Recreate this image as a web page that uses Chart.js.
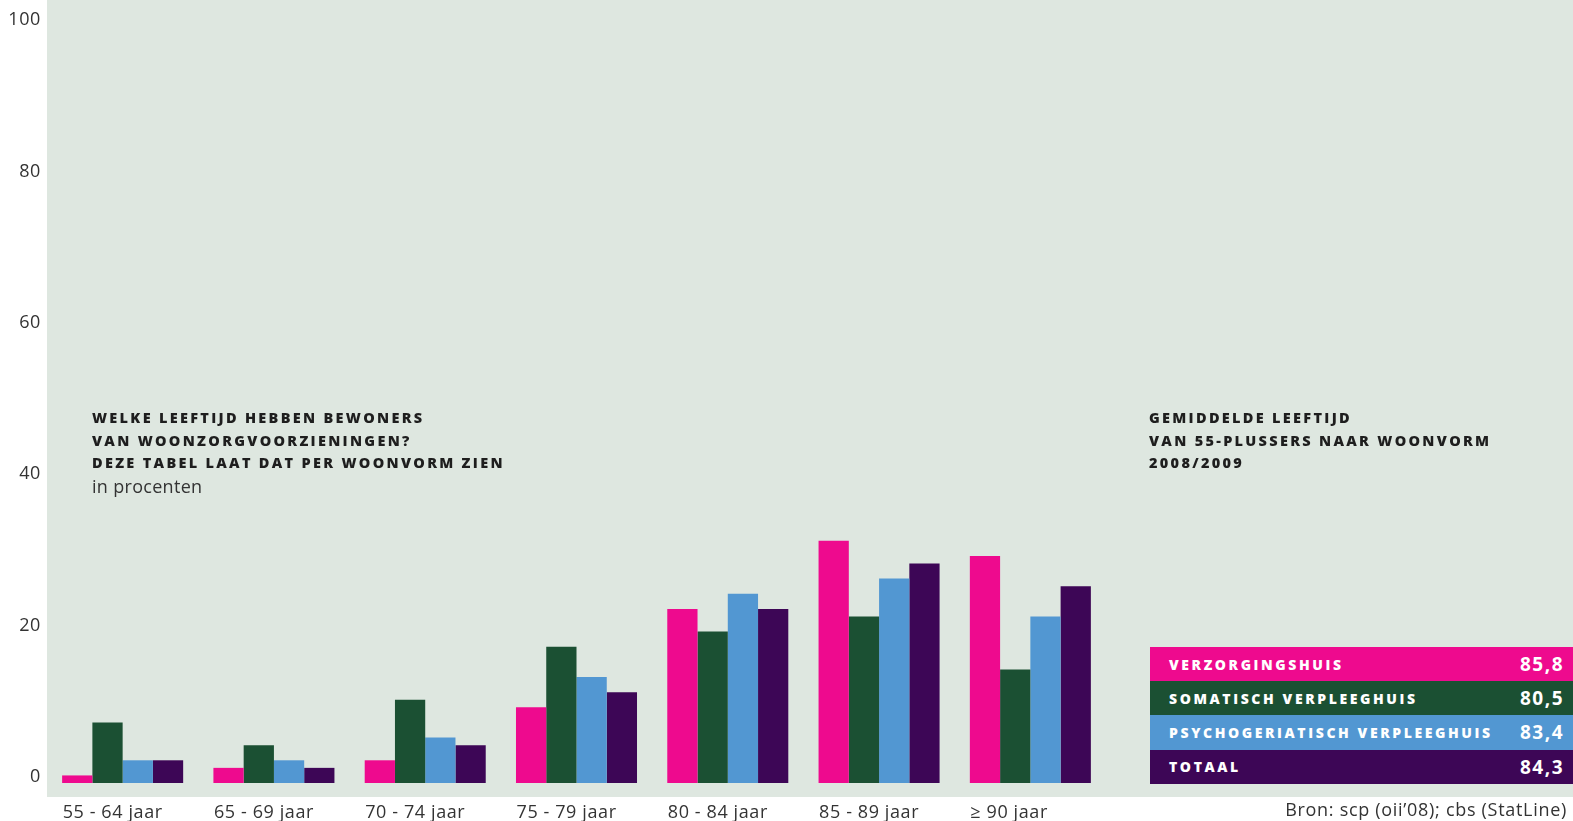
<!DOCTYPE html>
<html>
<head>
<meta charset="utf-8">
<script src="https://cdn.jsdelivr.net/npm/chart.js@4/dist/chart.umd.min.js"></script>
<style>
  html, body { margin: 0; padding: 0; background: #fff; }
  #wrap { position: relative; width: 1573px; height: 821px; overflow: hidden; font-family: "Open Sans", sans-serif; }
  #c { position: absolute; left: 0; top: 0; }
  .titel { position: absolute; font-weight: 800; font-size: 14.5px; letter-spacing: 2.3px; line-height: 22.5px; color: #1e1e1e; text-transform: uppercase; }
  .sub { font-weight: 400; font-size: 18px; letter-spacing: 0.3px; text-transform: none; color: #333; }
  #tabel { position: absolute; left: 1150px; top: 647px; width: 425px; }
  .rij { height: 34.2px; display: flex; align-items: center; justify-content: space-between; color: #fff; }
  .rij .naam { padding-left: 19px; font-weight: 800; font-size: 14px; letter-spacing: 2.6px; text-transform: uppercase; }
  .rij .waarde { padding-right: 11px; font-weight: 700; font-size: 19px; letter-spacing: 1.5px; }
  #bron { position: absolute; right: 6px; top: 797px; font-size: 18px; letter-spacing: 0.7px; color: #333; }
</style>
</head>
<body>
<div id="wrap">
  <canvas id="c" width="1573" height="821"></canvas>
  <div class="titel" style="left:92px; top:407px;">Welke leeftijd hebben bewoners<br>van woonzorgvoorzieningen?<br>Deze tabel laat dat per woonvorm zien<br><span class="sub">in procenten</span></div>
  <div class="titel" style="left:1149px; top:407px;">Gemiddelde leeftijd<br>van 55-plussers naar woonvorm<br>2008/2009</div>
  <div id="tabel"></div>
  <div id="bron">Bron: scp (oii’08); cbs (StatLine)</div>
</div>
<script>
// Leeftijdsgroepen
const leeftijden = ['55 - 64 jaar', '65 - 69 jaar', '70 - 74 jaar', '75 - 79 jaar', '80 - 84 jaar', '85 - 89 jaar', '≥ 90 jaar'];

// Woonvormen en kleuren
const woonvormen = ['Verzorgingshuis', 'Somatisch verpleeghuis', 'Psychogeriatisch verpleeghuis', 'Totaal'];
const kleuren = ['#ee0a8e', '#1b5033', '#5297d2', '#3d0656'];

// Percentages per woonvorm
const verzorgingshuis = [1, 2, 3, 10, 23, 32, 30];
const somatisch = [8, 5, 11, 18, 20, 22, 15];
const psychogeriatrisch = [3, 3, 6, 14, 25, 27, 22];
const totaal = [3, 2, 5, 12, 23, 29, 26];

// Gemiddelde leeftijd per woonvorm
const gemiddeld = ['85,8', '80,5', '83,4', '84,3'];

const yTicks = [0, 20, 40, 60, 80, 100];

// Tabel met gemiddelde leeftijd
const tabel = document.getElementById('tabel');
woonvormen.forEach((naam, i) => {
  const rij = document.createElement('div');
  rij.className = 'rij';
  rij.style.background = kleuren[i];
  rij.innerHTML = '<span class="naam">' + naam + '</span><span class="waarde">' + gemiddeld[i] + '</span>';
  tabel.appendChild(rij);
});

// Achtergrondvlak, en wat extra letterafstand voor de aslabels
const achtergrond = {
  id: 'achtergrond',
  beforeDraw(chart) {
    const ctx = chart.ctx;
    ctx.save();
    ctx.fillStyle = '#dee7e0';
    ctx.fillRect(47, 0, chart.width - 47, 797);
    ctx.restore();
    ctx.letterSpacing = '0.6px';
  }
};

const reeksen = [verzorgingshuis, somatisch, psychogeriatrisch, totaal];

new Chart(document.getElementById('c').getContext('2d'), {
  type: 'bar',
  data: {
    labels: leeftijden,
    datasets: reeksen.map((data, i) => ({
      label: woonvormen[i],
      data: data,
      backgroundColor: kleuren[i],
      borderWidth: 0,
      barPercentage: 1.0,
      categoryPercentage: 0.8
    }))
  },
  options: {
    responsive: false,
    animation: false,
    devicePixelRatio: 1,
    layout: { padding: { top: 26, right: 467, left: 0, bottom: 0 } },
    plugins: { legend: { display: false }, tooltip: { enabled: false } },
    scales: {
      x: {
        grid: { display: false, drawTicks: false },
        border: { display: false },
        ticks: {
          color: '#333',
          font: { family: 'Open Sans', size: 18 },
          align: 'start',
          labelOffset: -60,
          padding: 19,
          maxRotation: 0
        },
        afterFit(scale) { scale.height = 38; }
      },
      y: {
        min: 0,
        max: 100,
        grid: { display: false, drawTicks: false },
        border: { display: false },
        afterBuildTicks(scale) { scale.ticks = yTicks.map(v => ({ value: v })); },
        ticks: {
          color: '#333',
          font: { family: 'Open Sans', size: 18 },
          padding: 6,
          labelOffset: -6
        },
        afterFit(scale) { scale.width = 47; }
      }
    }
  },
  plugins: [achtergrond]
});
</script>
</body>
</html>
